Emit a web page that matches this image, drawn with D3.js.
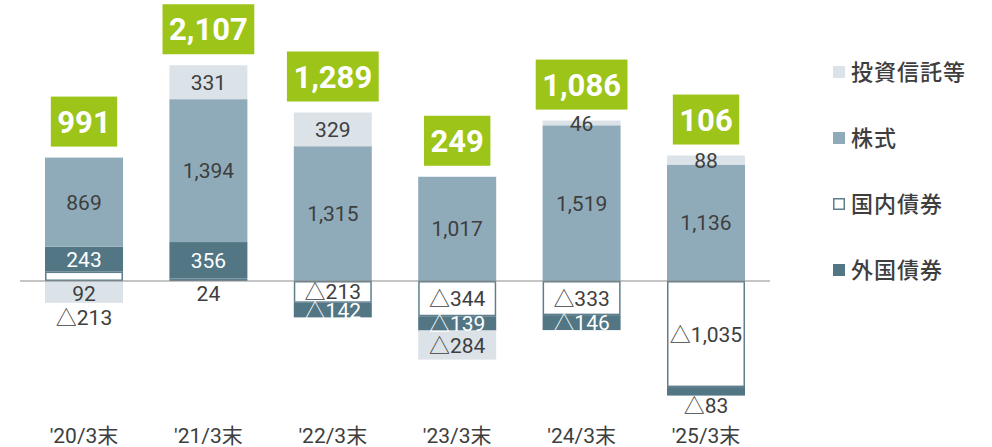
<!DOCTYPE html>
<html>
<head>
<meta charset="utf-8">
<script src="https://cdn.jsdelivr.net/npm/d3@7"></script>
<style>
  html, body { margin: 0; padding: 0; background: #fff; }
  svg { display: block; font-family: Roboto, 'Noto Sans CJK JP', sans-serif; }
</style>
</head>
<body>
<svg id="chart" width="992" height="447"></svg>
<script>
// categories and series (億円, negatives shown with △)
const categories = ["'20/3末", "'21/3末", "'22/3末", "'23/3末", "'24/3末", "'25/3末"]
const domesticBonds = [92, 24, -213, -344, -333, -1035]   // 国内債券
const foreignBonds = [243, 356, -142, -139, -146, -83]     // 外国債券
const stocks = [869, 1394, 1315, 1017, 1519, 1136]         // 株式
const funds = [-213, 331, 329, -284, 46, 88]               // 投資信託等
const totals = [991, 2107, 1289, 249, 1086, 106]

const seriesKeys = ['国内債券', '外国債券', '株式', '投資信託等']
const seriesValues = [domesticBonds, foreignBonds, stocks, funds]
const legendKeys = ['投資信託等', '株式', '国内債券', '外国債券']

const color = {
  '投資信託等': '#dbe3e9',
  '株式': '#8fabb9',
  '国内債券': '#ffffff',
  '外国債券': '#527684',
  outline: '#5f7f8e',
  total: '#9cc419',
  text: '#3e3e3e',
  axis: '#8c8c8c'
}

const rows = categories.map((c, i) => {
  const r = { category: c, total: totals[i] }
  seriesKeys.forEach((k, j) => { r[k] = seriesValues[j][i] })
  return r
})

const svg = d3.select('#chart')

const x = d3.scaleBand()
  .domain(categories)
  .range([21.8, 768.2])
  .paddingInner(0.373)
  .paddingOuter(0.1865)

const y = d3.scaleLinear()
  .domain([-1400, 2700])
  .range([424.5, 4.25])

const stack = d3.stack().keys(seriesKeys).offset(d3.stackOffsetDiverging)
const stacked = stack(rows)

const fmt = v => (v < 0 ? '△' : '') + d3.format(',')(Math.abs(v))

// bars
const layers = svg.append('g')
  .selectAll('g')
  .data(stacked)
  .join('g')
  .attr('fill', d => color[d.key])

layers.selectAll('rect')
  .data(d => d.map(p => Object.assign(p, { key: d.key })))
  .join('rect')
  .attr('x', d => x(d.data.category) + (d.key === '国内債券' ? 0.75 : 0))
  .attr('width', d => x.bandwidth() - (d.key === '国内債券' ? 1.5 : 0))
  .attr('y', d => y(Math.max(d[0], d[1])) + (d.key === '国内債券' ? 0.75 : 0))
  .attr('height', d => Math.max(0, Math.abs(y(d[0]) - y(d[1])) - (d.key === '国内債券' ? 1.5 : 0)))
  .attr('stroke', d => d.key === '国内債券' ? color.outline : 'none')
  .attr('stroke-width', 1.5)

// zero line
svg.append('line')
  .attr('x1', 20).attr('x2', 770)
  .attr('y1', y(0)).attr('y2', y(0))
  .attr('stroke', color.axis)
  .attr('stroke-width', 1.2)

// segment labels
const labels = []
rows.forEach((r, i) => {
  const segs = stacked.map(s => ({ key: s.key, v: r[s.key], lo: Math.min(s[i][0], s[i][1]), hi: Math.max(s[i][0], s[i][1]) }))
  const minNeg = d3.min(segs, s => s.lo)
  let belowZeroUsed = false
  segs.forEach(s => {
    const h = Math.abs(y(s.lo) - y(s.hi))
    if (s.v > 0 && s.key === '国内債券' && h < 18) {
      labels.push({ c: r.category, v: s.v, y: y(0) + 12, fill: color.text })
      belowZeroUsed = true
    }
  })
  segs.forEach(s => {
    const h = Math.abs(y(s.lo) - y(s.hi))
    if (s.v > 0 && s.key === '国内債券' && h < 18) return
    let ly = (y(s.lo) + y(s.hi)) / 2
    let fill = s.key === '外国債券' ? '#ffffff' : color.text
    const outer = s.v < 0 && s.lo === minNeg
    if (outer && belowZeroUsed) {
      ly = y(s.lo) + 15
      fill = color.text
    } else if (outer && h < 12) {
      ly = y(s.lo) + 10
      fill = color.text
    }
    labels.push({ c: r.category, v: s.v, y: ly, fill: fill })
  })
})

svg.append('g')
  .selectAll('text')
  .data(labels)
  .join('text')
  .attr('x', d => x(d.c) + x.bandwidth() / 2)
  .attr('y', d => d.y)
  .attr('dy', '0.36em')
  .attr('text-anchor', 'middle')
  .attr('fill', d => d.fill)
  .style('font-size', '21px')
  .text(d => fmt(d.v))

// total boxes
const totalG = svg.append('g')
  .selectAll('g')
  .data(rows)
  .join('g')
  .attr('transform', d => {
    const top = d3.sum(seriesKeys, k => Math.max(0, d[k]))
    return 'translate(' + (x(d.category) + x.bandwidth() / 2) + ',' + (y(top) - 11) + ')'
  })

totalG.append('rect').attr('fill', color.total)
const totalText = totalG.append('text')
  .attr('text-anchor', 'middle')
  .attr('y', -25)
  .attr('dy', '0.36em')
  .attr('fill', '#ffffff')
  .style('font-size', '31px')
  .style('font-weight', 700)
  .text(d => d3.format(',')(d.total))

totalText.each(function (d) {
  const w = this.getComputedTextLength() + 13
  d3.select(this.parentNode).select('rect')
    .attr('x', -w / 2).attr('width', w)
    .attr('y', -50).attr('height', 50)
})

// x axis labels
svg.append('g')
  .selectAll('text')
  .data(categories)
  .join('text')
  .attr('x', d => x(d) + x.bandwidth() / 2)
  .attr('y', 435)
  .attr('dy', '0.36em')
  .attr('text-anchor', 'middle')
  .attr('fill', color.text)
  .style('font-size', '21px')
  .text(d => d)

// legend
const legendY = d3.scalePoint().domain(legendKeys).range([72, 270])
const legend = svg.append('g')
  .selectAll('g')
  .data(legendKeys)
  .join('g')
  .attr('transform', d => 'translate(833,' + legendY(d) + ')')

legend.append('rect')
  .attr('x', d => d === '国内債券' ? 0.75 : 0)
  .attr('y', d => d === '国内債券' ? -5.25 : -6)
  .attr('width', d => d === '国内債券' ? 10.5 : 12)
  .attr('height', d => d === '国内債券' ? 10.5 : 12)
  .attr('fill', d => color[d])
  .attr('stroke', d => d === '国内債券' ? color.outline : 'none')
  .attr('stroke-width', 1.5)

legend.append('text')
  .attr('x', 18)
  .attr('dy', '0.36em')
  .attr('fill', color.text)
  .style('font-size', '22px')
  .style('font-weight', 500)
  .style('letter-spacing', '1px')
  .style('font-family', "'Noto Sans CJK JP', sans-serif")
  .text(d => d)
</script>
</body>
</html>
